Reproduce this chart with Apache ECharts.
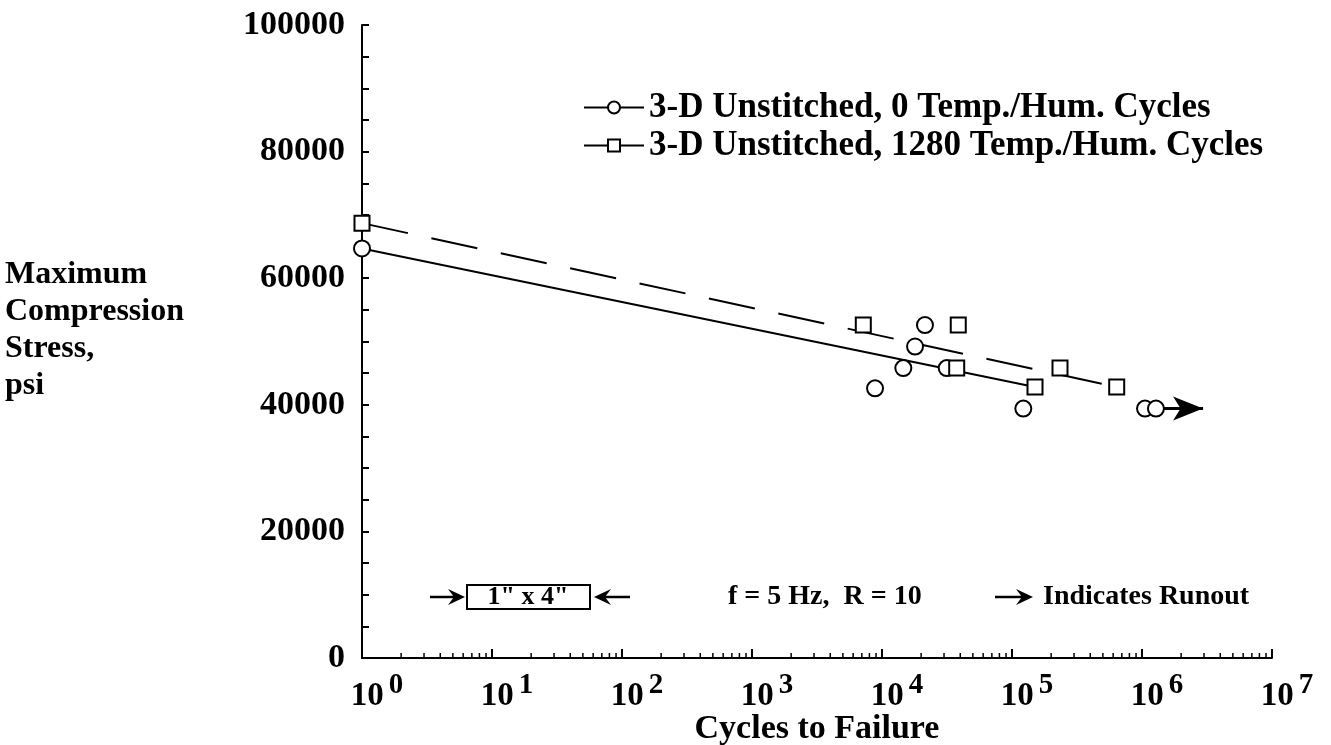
<!DOCTYPE html>
<html>
<head>
<meta charset="utf-8">
<title>Cycles to Failure</title>
<script src="https://cdn.jsdelivr.net/npm/echarts@6/dist/echarts.min.js"></script>
<style>
    html, body { margin: 0; padding: 0; background: #fff; }
    #chart1 { width: 1331px; height: 745px; }
</style>
</head>
<body>
<div id="chart1"></div>
<script>
// 0 temp./hum. cycles (circles)  [cycles, psi]
var unstitched0 = [
    [1, 64700], [8840, 42600], [14590, 45800], [17950, 49200], [21400, 52600],
    [31470, 45800], [122200, 39400], [1055000, 39400], [1280000, 39400]
];
// 1280 temp./hum. cycles (squares)
var unstitched1280 = [
    [1, 68700], [7180, 52600], [37550, 45800], [38600, 52600],
    [150300, 42800], [234000, 45800], [638800, 42800]
];
// fitted lines
var fit0 = [[1, 64700], [150300, 42800]];
var fit1280 = [[1, 68700], [638800, 42800]];
// runout arrow
var runout = [[1280000, 39400], [2950000, 39400]];

var yLabels = [0, 20000, 40000, 60000, 80000, 100000];
var decades = [1, 10, 100, 1000, 10000, 100000, 1000000];
var minorSteps = [2, 3, 4, 5, 6, 7, 8, 9];

var name0 = '3-D Unstitched, 0 Temp./Hum. Cycles';
var name1280 = '3-D Unstitched, 1280 Temp./Hum. Cycles';
var serif = '"Liberation Serif", "Times New Roman", serif';

var minorTicks = [];
decades.forEach(function (d) {
    minorSteps.forEach(function (m) {
        minorTicks.push([m * d, 0]);
    });
});

var mychart = echarts.init(document.getElementById('chart1'));

function arrow(x1, x2, y) {
    // shaft + head, head at x2
    var dir = x2 > x1 ? 1 : -1;
    return [{
        type: 'line',
        shape: { x1: x1, y1: y, x2: x2 - dir * 8, y2: y },
        style: { stroke: '#000', lineWidth: 2.5 }
    }, {
        type: 'polygon',
        shape: { points: [[x2, y], [x2 - dir * 17, y - 8], [x2 - dir * 11, y], [x2 - dir * 17, y + 8]] },
        style: { fill: '#000' }
    }];
}

var option = {
    animation: false,
    backgroundColor: '#fff',
    grid: { left: 362, right: 59, top: 25, bottom: 87, containLabel: false, outerBoundsMode: 'none' },
    legend: {
        data: [{ name: name0 }, { name: name1280 }],
        orient: 'vertical',
        left: 578,
        top: 85,
        itemWidth: 60,
        itemHeight: 15,
        itemGap: 3,
        selectedMode: false,
        textStyle: { fontFamily: serif, fontWeight: 'bold', fontSize: 35, color: '#000' },
        lineStyle: { opacity: 1, width: 2, type: 'solid', color: '#000' }
    },
    xAxis: {
        type: 'log',
        logBase: 10,
        min: 1,
        max: 10000000,
        name: 'Cycles to Failure',
        nameLocation: 'middle',
        nameGap: 54,
        nameMoveOverlap: false,
        nameTextStyle: { fontFamily: serif, fontWeight: 'bold', fontSize: 34, color: '#000' },
        axisLine: { lineStyle: { color: '#000', width: 2 } },
        axisTick: { inside: true, length: 9, lineStyle: { color: '#000', width: 2 } },
        splitLine: { show: false },
        axisLabel: {
            margin: 13,
            padding: [0, 0, 0, 30],
            formatter: function (v) {
                return '{b|10}{s|' + Math.round(Math.log10(v)) + '}';
            },
            rich: {
                b: { fontFamily: serif, fontWeight: 'bold', fontSize: 33, color: '#000', verticalAlign: 'bottom' },
                s: { fontFamily: serif, fontWeight: 'bold', fontSize: 29, color: '#000', verticalAlign: 'bottom', padding: [0, 0, 13, 5] }
            }
        }
    },
    yAxis: {
        type: 'value',
        min: 0,
        max: 100000,
        interval: 5000,
        axisLine: { show: true, lineStyle: { color: '#000', width: 2 } },
        axisTick: { show: true, inside: true, length: 7, lineStyle: { color: '#000', width: 2 } },
        splitLine: { show: false },
        axisLabel: {
            margin: 17,
            fontFamily: serif,
            fontWeight: 'bold',
            fontSize: 34,
            color: '#000',
            formatter: function (v) {
                return yLabels.indexOf(v) >= 0 ? String(v) : '';
            }
        }
    },
    graphic: [
        {
            type: 'text', left: 5, top: 256,
            style: {
                text: 'Maximum\nCompression\nStress,\npsi',
                font: 'bold 32px ' + serif, lineHeight: 37, fill: '#000'
            }
        },
        {
            type: 'rect', shape: { x: 467, y: 585, width: 123, height: 24 },
            style: { fill: 'none', stroke: '#000', lineWidth: 2 }
        },
        {
            type: 'text', x: 528, y: 597,
            style: { text: '1" x 4"', font: 'bold 26px ' + serif, fill: '#000', align: 'center', verticalAlign: 'middle' }
        },
        {
            type: 'text', x: 728, y: 597,
            style: { text: 'f = 5 Hz,  R = 10', font: 'bold 28px ' + serif, fill: '#000', verticalAlign: 'middle' }
        },
        {
            type: 'text', x: 1043, y: 597,
            style: { text: 'Indicates Runout', font: 'bold 28px ' + serif, fill: '#000', verticalAlign: 'middle' }
        }
    ].concat(arrow(430, 465, 597), arrow(630, 594, 597), arrow(995, 1033, 597)),
    series: [
        {
            name: name0,
            type: 'line',
            data: unstitched0,
            symbol: 'emptyCircle',
            symbolSize: 16,
            lineStyle: { opacity: 0 },
            itemStyle: { color: '#000', borderWidth: 2 },
            z: 5,
            markLine: {
                silent: true,
                symbol: ['none', 'arrow'],
                symbolSize: [18, 30],
                label: { show: false },
                lineStyle: { color: '#000', width: 3, type: 'solid' },
                data: [[{ coord: runout[0] }, { coord: runout[1] }]]
            }
        },
        {
            name: name1280,
            type: 'line',
            data: unstitched1280,
            symbol: 'emptyRect',
            symbolSize: 15,
            lineStyle: { opacity: 0 },
            itemStyle: { color: '#000', borderWidth: 2 },
            z: 5
        },
        {
            name: 'fit0',
            type: 'line',
            data: fit0,
            symbol: 'none',
            lineStyle: { color: '#000', width: 2 },
            z: 3
        },
        {
            name: 'fit1280',
            type: 'line',
            data: fit1280,
            symbol: 'none',
            lineStyle: { color: '#000', width: 2, type: [47, 24] },
            z: 3
        },
        {
            name: 'minor',
            type: 'custom',
            data: minorTicks,
            silent: true,
            renderItem: function (params, api) {
                var p = api.coord([api.value(0), 0]);
                return {
                    type: 'line',
                    shape: { x1: p[0], y1: p[1], x2: p[0], y2: p[1] - 5 },
                    style: { stroke: '#000', lineWidth: 1.5 }
                };
            },
            z: 2
        }
    ]
};

mychart.setOption(option);
</script>
</body>
</html>
